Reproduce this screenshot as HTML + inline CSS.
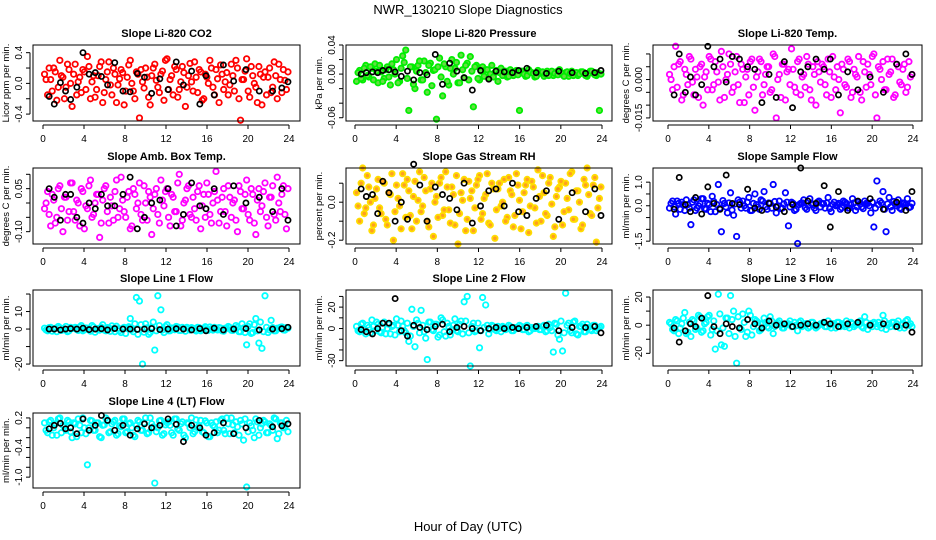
<!DOCTYPE html>
<html><head><meta charset="utf-8"><style>
html,body{margin:0;padding:0;background:#fff}
svg{display:block;font-family:"Liberation Sans",sans-serif}
</style></head><body>
<svg id="chart" width="936" height="540" viewBox="0 0 936 540" xmlns="http://www.w3.org/2000/svg">
<text x="468" y="14" text-anchor="middle" font-size="13">NWR_130210  Slope Diagnostics</text>
<text x="468" y="531" text-anchor="middle" font-size="13">Hour of Day (UTC)</text>
</svg>
<script>
const xTicks=[0,4,8,12,16,20,24];
const blackTimes=[0.6,1.1,1.7,2.2,2.7,3.3,3.9,4.5,5.1,5.7,6.3,7.0,7.8,8.5,9.2,9.9,10.6,11.4,12.2,13.0,13.7,14.5,15.3,15.9,16.7,17.6,18.6,19.8,21.1,22.4,23.3,23.9];
const co2Vals=[0.12,-0.15,0.05,0.2,-0.22,0.3,0.08,-0.05,0.18,-0.3,0.25,0.02,-0.12,0.15,0.35,-0.2,0.1,-0.08,0.22,-0.25,0.05,0.28,-0.15,0.12,-0.02,0.18,-0.28,0.08,0.3,-0.1,0.15,-0.45,0.02,0.2,-0.18,0.1,0.25,-0.05,0.12,-0.22,0.32,0.05,-0.15,0.18,-0.08,0.22,-0.3,0.1,0.02,0.28,-0.12,0.15,-0.2,0.08,0.3,-0.05,0.18,-0.25,0.12,0.02,-0.15,0.25,-0.1,0.2,-0.48,0.05,0.32,-0.18,0.1,-0.05,0.22,-0.28,0.15,0.08,-0.12,0.28,-0.2,0.05,0.18,-0.08];
const co2ValsB=[0.05,0.2,-0.1,0.15,-0.05,0.1,-0.2,0.25,0.0,0.12,-0.15,0.08,0.18,-0.08,0.22,0.02,-0.18,0.1,0.28,-0.12,0.15,-0.02,0.2,-0.25,0.06,0.14,-0.1,0.24,0.0,-0.2,0.12,0.18,-0.06,0.08,-0.28,0.2,0.04,-0.12,0.16,0.3,-0.08,0.1,0.22,-0.18,0.02,0.14,-0.05,0.26,-0.1,0.08,0.18,-0.22,0.12,0.0,0.2,-0.15,0.06,0.24,-0.08,0.14,-0.02,0.1,0.3,-0.2,0.05,0.16,-0.1,0.22,0.0,-0.25,0.12,0.08,-0.15,0.2,-0.05,0.1,0.25,-0.12,0.04,0.15];
const co2Black=[-0.17,-0.27,0.01,-0.1,-0.21,-0.05,0.4,0.12,0.14,0.09,-0.02,0.27,-0.1,-0.11,0.13,0.08,-0.13,0.06,-0.08,0.28,-0.02,0.16,-0.27,0.1,-0.15,0.24,0.03,0.18,-0.1,-0.1,-0.06,0.02];
const presVals=[-0.01,0.005,-0.008,0.012,-0.004,0.008,0.014,-0.012,0.003,-0.006,0.01,-0.015,0.006,0.02,-0.01,0.025,0.033,-0.05,0.01,-0.02,0.012,-0.008,0.018,-0.025,0.015,0.005,-0.062,0.022,-0.03,0.01,-0.015,0.02,0.008,-0.012,0.026,-0.005,0.015,0.024,-0.045,0.012,-0.008,0.01,0.006,-0.006,0.012,0.002,-0.01,0.008,0.004,-0.004,0.006,-0.002,0.005,-0.05,0.004,-0.003,0.006,0.002,-0.004,0.005,0.001,-0.003,0.004,0.002,-0.002,0.003,0.006,-0.001,0.002,-0.003,0.004,0.001,-0.002,0.003,0.002,-0.003,0.004,0.001,-0.002,-0.05];
const presValsB=[0.002,-0.006,0.008,-0.002,0.01,-0.008,0.004,0.012,-0.01,0.006,-0.004,0.014,0.0,-0.012,0.008,0.016,-0.006,0.01,-0.014,0.004,0.018,-0.008,0.002,0.012,-0.016,0.006,0.01,-0.004,0.014,-0.01,0.008,0.0,0.016,-0.012,0.006,0.012,-0.008,0.004,0.01,-0.006,0.004,-0.003,0.006,0.0,-0.004,0.005,0.002,-0.002,0.004,-0.003,0.002,0.003,-0.001,0.004,0.0,-0.002,0.003,0.001,-0.003,0.002,0.003,0.0,-0.002,0.004,0.001,-0.001,0.002,-0.003,0.003,0.001,-0.002,0.002,0.0,0.003,-0.002,0.001,0.004,-0.001,0.002,0.0];
const presBlack=[0,0.002,0.003,0.002,0.005,0.006,0.003,-0.003,0.004,-0.008,0.002,-0.001,0.027,-0.014,0.015,0.004,-0.005,-0.022,0.005,-0.007,0.004,0.003,0.002,0.005,0.008,0.002,0.001,0.004,0.002,0.001,0.002,0.005];
const tempVals=[0.002,-0.004,0.013,0.006,-0.008,0.004,-0.002,0.008,-0.006,0.001,0.005,-0.01,0.003,0.009,-0.004,0.007,-0.001,0.011,-0.007,0.002,0.006,-0.003,0.009,-0.009,0.004,0.001,-0.006,0.008,-0.012,0.003,0.007,-0.002,0.005,-0.005,0.01,-0.015,0.002,0.006,-0.008,0.004,0.012,-0.003,0.007,-0.006,0.002,0.009,-0.004,0.005,-0.01,0.003,0.006,-0.002,0.008,-0.007,0.001,0.005,-0.013,0.004,-0.003,0.007,-0.005,0.002,0.009,-0.008,0.003,0.006,-0.002,0.01,-0.015,0.004,0.007,-0.004,0.002,0.008,-0.006,0.005,-0.002,0.006,-0.003,0.001];
const tempValsB=[0.0,0.005,-0.003,0.007,-0.006,0.002,0.009,-0.001,0.004,-0.007,0.006,0.001,-0.004,0.008,-0.002,0.003,-0.008,0.005,0.0,0.01,-0.005,0.003,-0.002,0.006,-0.009,0.004,0.007,-0.003,0.001,0.008,-0.006,0.002,0.005,-0.004,0.009,0.0,-0.007,0.006,0.003,-0.002,0.004,-0.005,0.008,0.001,-0.003,0.006,-0.008,0.002,0.007,-0.001,0.005,-0.006,0.003,0.009,-0.004,0.0,0.006,-0.002,0.008,-0.007,0.004,0.001,-0.005,0.007,-0.003,0.002,0.009,-0.006,0.005,0.0,-0.004,0.008,0.003,-0.007,0.006,-0.001,0.004,-0.005,0.007,0.002];
const tempBlack=[-0.006,0.01,-0.005,0.001,-0.006,-0.002,0.013,0.005,0.008,-0.001,0.009,0.008,0.005,0.004,-0.009,0.002,-0.007,0.007,-0.011,0.003,0.005,0.008,0.004,0.008,-0.006,0.003,-0.004,0.001,-0.005,0.006,0.01,0.002];
const ambVals=[-0.02,0.04,-0.08,0.01,-0.05,0.06,-0.1,0.02,-0.03,0.07,-0.06,0.0,0.05,-0.09,-0.02,0.08,-0.04,0.03,-0.12,0.01,0.06,-0.07,-0.01,0.04,-0.05,0.09,-0.03,0.02,-0.09,0.05,-0.02,0.07,-0.06,0.0,0.04,-0.11,0.03,-0.04,0.08,-0.01,0.05,-0.08,0.02,-0.03,0.1,-0.06,0.01,0.06,-0.05,-0.02,0.04,-0.09,0.03,0.07,-0.04,0.0,0.11,-0.07,0.02,-0.03,0.06,-0.05,0.01,-0.1,0.04,-0.02,0.08,-0.06,0.03,-0.11,0.05,-0.01,0.07,-0.08,0.02,-0.04,0.09,-0.03,0.06,-0.09];
const ambValsB=[0.0,-0.04,0.03,-0.07,0.05,-0.02,0.02,-0.06,0.07,-0.03,0.01,-0.08,0.04,-0.01,0.06,-0.05,0.0,0.03,-0.07,0.05,-0.03,0.02,-0.06,0.08,-0.02,0.01,-0.05,0.04,-0.08,0.03,0.0,-0.04,0.06,-0.06,0.02,-0.02,0.05,-0.07,0.01,0.04,-0.05,0.03,-0.03,0.07,-0.08,0.0,0.05,-0.04,0.02,-0.06,0.06,-0.01,-0.05,0.03,-0.07,0.04,0.01,-0.03,0.05,-0.08,0.02,0.0,-0.06,0.06,-0.02,0.03,-0.04,0.05,-0.07,0.01,-0.03,0.04,-0.05,0.02,0.06,-0.06,0.0,0.03,-0.04,0.05];
const ambBlack=[0.05,0.02,-0.06,0.03,0.03,-0.05,-0.07,0.0,-0.02,0.03,-0.01,-0.01,0.03,0.09,-0.09,-0.05,0.0,0.01,0.05,-0.08,-0.04,0.07,-0.01,-0.02,0.05,-0.04,0.06,0.0,0.02,-0.03,0.05,-0.06];
const rhVals=[0.05,-0.1,0.18,-0.03,0.08,-0.15,0.02,0.12,-0.06,0.1,-0.12,0.04,-0.2,0.09,-0.02,0.15,-0.08,0.06,-0.14,0.11,0.01,-0.05,0.13,-0.1,0.07,-0.18,0.03,0.1,-0.07,0.16,-0.04,0.08,-0.12,-0.22,0.05,0.12,-0.09,0.02,-0.15,0.09,0.14,-0.06,0.04,-0.11,0.1,-0.19,0.07,-0.02,0.12,-0.08,0.06,-0.13,0.15,0.01,-0.05,0.09,-0.16,0.11,-0.03,0.17,-0.1,0.05,-0.07,0.13,-0.18,0.03,0.08,-0.12,0.1,-0.04,0.16,-0.09,0.06,-0.14,0.12,0.18,-0.06,0.09,-0.21,0.02];
const rhValsB=[-0.02,0.1,-0.06,0.14,0.0,-0.12,0.07,-0.03,0.11,-0.09,0.05,0.15,-0.05,0.02,-0.14,0.09,0.12,-0.07,0.03,-0.1,0.16,-0.02,0.06,-0.13,0.1,0.0,-0.08,0.13,-0.04,0.08,-0.11,0.04,0.14,-0.06,0.01,-0.15,0.11,0.06,-0.03,0.12,-0.09,0.02,0.15,-0.12,0.07,-0.04,0.1,0.0,-0.1,0.13,0.04,-0.07,0.09,-0.14,0.05,0.12,-0.02,0.08,-0.11,0.03,0.14,-0.06,0.1,-0.01,-0.13,0.07,0.11,-0.05,0.02,0.15,-0.09,0.06,0.0,-0.12,0.09,0.04,-0.07,0.13,-0.03,0.08];
const rhBlack=[0.07,0.03,0.04,-0.06,0.11,0.05,-0.1,0.0,-0.09,0.2,0.09,-0.1,0.08,0.04,0.02,-0.04,0.1,-0.11,-0.02,0.06,0.07,-0.02,0.1,-0.05,-0.07,0.02,0.06,-0.09,0.05,-0.05,0.07,-0.07];
const flowVals=[-0.1,0.2,-0.35,0.1,0.15,-0.2,0.05,-0.8,0.25,-0.1,0.1,0.3,-0.15,0.05,0.4,-0.25,0.9,-1.1,0.1,-0.3,0.55,-0.4,-1.3,0.15,0.2,-0.1,0.35,-0.2,0.5,-0.05,0.25,0.6,-0.15,0.1,0.9,-0.3,0.2,-0.1,0.55,-0.85,0.15,-0.2,-1.6,0.1,0.25,-0.15,0.3,0.05,-0.2,0.2,0.1,-0.1,0.35,-0.25,0.15,0.05,-0.15,0.2,0.1,-0.1,0.3,-0.2,0.15,-0.05,0.2,0.1,-0.3,-0.9,1.05,0.2,0.6,-1.1,0.35,-0.2,0.1,0.25,-0.15,0.1,0.3,-0.05];
const flowValsB=[0.1,-0.05,0.2,-0.15,0.05,0.25,-0.1,0.15,-0.2,0.0,0.3,-0.12,0.1,-0.25,0.18,0.05,-0.1,0.22,-0.05,0.12,-0.18,0.08,0.25,-0.1,0.0,0.15,-0.2,0.1,0.05,-0.15,0.2,-0.05,0.12,-0.1,0.18,0.0,-0.12,0.08,0.15,-0.05,0.1,-0.15,0.05,0.12,-0.08,0.0,0.1,-0.1,0.15,-0.05,0.08,0.12,-0.12,0.05,0.0,0.1,-0.08,0.15,-0.1,0.05,0.12,-0.05,0.08,-0.12,0.1,0.0,0.15,-0.1,0.05,0.12,-0.15,0.08,-0.05,0.18,0.0,-0.1,0.12,0.05,-0.08,0.1];
const flowBlack=[-0.15,1.2,0.05,-0.25,0.35,-0.35,0.8,0.1,-0.15,1.3,0.1,0.05,0.7,-0.1,-0.2,0.1,-0.05,-0.25,0.05,1.6,0.2,0.1,0.85,-0.9,0.6,-0.2,0.2,0.3,-0.15,0.15,-0.2,0.6];
const line1Vals=[0.5,-1,1,0,-1.5,0.8,-0.5,1.5,-1,0.3,1,-0.8,2,-0.5,0.5,-1.2,1.2,0,-0.6,2.5,-1,0.7,1.8,-1.5,0.2,-2,1,0.5,6,-1.5,18,16,-20,3,-3,1,-12,19,11,-2,2.5,-1,0.5,1.5,-0.8,1,-1.2,0.3,0.8,-0.5,1,-1,0.5,-0.3,1.2,-0.6,0.2,0.8,-1,0.5,1.5,-0.7,0.2,1,-1.5,0.6,-9,3,-2,6,-8,-11,19,-2,5,-1,0.5,1,-0.5,0.8];
const line1ValsB=[-0.5,0.8,-1.2,0.4,1.5,-0.8,0.2,-1.5,1,0.5,-0.3,1.2,-1,0.6,-0.4,2,-1.8,0.3,1.1,-0.6,0.8,-1.3,0.2,1.6,-0.9,0.5,-2.5,1.3,-0.2,3,-3,2.5,-1.8,0.7,-2,4,-1,2,-0.5,1.5,-1,0.6,-0.4,1.2,-0.8,0.3,1,-0.6,0.5,-1.1,0.8,-0.3,1.3,-0.7,0.2,1,-0.5,0.6,-1.2,0.4,0.9,-0.8,2,-1.5,3,-2,1.5,-2.5,2.5,-1,4,-1.5,1,-0.5,0.8,-1,0.3,1.2,-0.6,0.5];
const line1Black=[0,0,-0.5,0,0.3,0,0.5,-0.3,0,0.2,-0.5,0.3,0,0,-0.2,0,0.3,-0.3,0,0.2,0,-0.5,0.3,-1,0.5,-0.5,0,0.3,-0.5,0,0.2,1];
const line2Vals=[2,-3,5,-5,1,8,-2,4,-4,6,0,-5,3,9,-3,2,-4,-12,18,-17,5,17,-3,-29,6,-2,4,-6,8,-7,2,-1,9,-3,7,25,30,-35,5,-2,-18,29,22,-5,3,-1,2,-3,1,0,2,-2,1,3,-1,2,-3,1,0,2,-1,3,-2,1,-22,4,-10,-21,33,5,-4,7,-6,2,-3,4,-1,3,-2,1];
const line2ValsB=[-2,4,-1,3,-4,2,6,-3,1,-5,4,2,-6,3,7,-2,5,-7,2,8,-4,3,-9,6,-1,4,-8,10,-3,5,-6,3,-2,4,-5,7,-4,2,-3,5,-2,1,3,-1,2,-2,0,2,-1,3,-2,1,0,2,-1,3,-2,0,1,-1,2,-3,4,-2,5,-6,7,-4,3,-2,6,-5,2,4,-3,1,-2,3,0,2];
const line2Black=[-1,-3,-5,0,5,5,28,-2,-7,3,1,-1,2,4,-3,1,2,0,-2,0,1,0,1,0,1,2,3,-2,1,1,2,-4];
const line3Vals=[2,-3,4,-6,1,9,-5,-8,3,-2,6,-4,2,7,-3,-17,22,-14,-15,5,21,10,-27,-2,8,-8,10,-7,4,2,-3,5,-1,6,-6,1,3,-2,0,1,-1,2,-4,3,0,1,-1,2,-2,0,1,-1,3,-2,1,2,-1,0,3,-2,1,0,2,-1,6,-3,1,2,-1,0,7,-3,1,2,-1,3,0,-2,4,1];
const line3ValsB=[1,-4,3,-2,5,-6,2,4,-3,7,-5,1,6,-7,3,-4,8,-2,5,-6,4,-8,6,-3,2,-5,7,-1,3,-4,1,2,-2,3,-1,2,0,-2,1,3,-1,0,2,-1,1,-2,2,0,-1,1,2,-1,0,1,-2,2,1,-1,0,2,-1,1,3,-2,2,0,-1,1,2,-2,3,0,-1,2,1,-2,1,3,0,-1];
const line3Black=[-2,-12,-4,1,-1,5,21,-1,-6,1,-1,-2,4,1,-2,3,0,1,-1,0,1,0,2,1,-1,1,2,0,1,-1,0,-5];
const line4Vals=[0.1,-0.1,0.15,0.0,-0.15,0.2,0.05,-0.05,0.12,-0.2,0.08,0.18,-0.1,0.0,-0.75,0.15,-0.05,0.1,-0.18,0.05,0.2,-0.1,0.08,0.15,-0.12,0.02,0.18,-0.08,0.1,-0.15,0.05,0.12,-0.05,0.2,-0.1,0.08,-1.12,0.0,0.15,-0.12,0.1,0.05,-0.15,0.18,-0.05,0.12,-0.2,0.08,0.2,-0.08,0.0,0.15,-0.1,0.1,-0.18,0.05,0.12,-0.05,0.18,-0.12,0.08,0.2,-0.1,0.02,0.15,-0.25,-1.2,0.1,-0.05,0.18,-0.15,0.08,0.12,-0.1,0.05,0.2,-0.22,0.1,0.0,0.15];
const line4ValsB=[-0.05,0.12,-0.15,0.08,0.18,-0.1,0.02,0.15,-0.08,0.1,-0.18,0.05,0.2,-0.12,0.0,0.14,-0.05,0.1,-0.2,0.06,0.16,-0.08,0.12,-0.15,0.04,0.18,-0.1,0.08,0.0,-0.18,0.15,-0.05,0.1,-0.12,0.2,0.02,-0.08,0.14,-0.15,0.06,0.12,-0.1,0.18,-0.02,0.08,-0.15,0.1,0.0,-0.12,0.16,0.04,-0.08,0.14,-0.18,0.1,0.02,-0.1,0.15,-0.05,0.2,-0.12,0.06,0.12,-0.15,0.08,0.18,-0.08,0.04,-0.2,0.12,0.0,0.15,-0.1,0.08,-0.05,0.18,-0.12,0.1,0.02,-0.08];
const line4Black=[-0.02,0.05,0.09,-0.02,0.0,-0.12,0.18,-0.05,0.05,0.25,0.15,-0.05,0.05,-0.15,-0.02,0.08,0.0,0.05,0.18,0.07,-0.28,0.05,0.0,-0.15,-0.1,0.1,-0.12,0.0,0.15,0.02,0.04,0.08];

const NS="http://www.w3.org/2000/svg";
const svg=document.getElementById('chart');
function mk(tag,attrs,parent){const e=document.createElementNS(NS,tag);for(const k in attrs)e.setAttribute(k,attrs[k]);(parent||svg).appendChild(e);return e;}
const cols=[{l:33,r:300,x0:43,x24:289},{l:346,r:612,x0:355,x24:602},{l:653,r:922,x0:668,x24:913}];
const rows=[{t:45,b:121},{t:168,b:244},{t:290,b:366},{t:413,b:488}];
const panels=[
 {name:'co2',title:'Slope Li-820 CO2',ylab:'Licor ppm per min.',c:0,r:0,ymin:-0.49,ymax:0.5,ticks:[-0.4,-0.2,0,0.2,0.4],labs:{'0.4':'0.4','0':'0.0','-0.4':'-0.4'},vals:co2Vals,valsB:co2ValsB,blk:co2Black,stroke:'#ff0000',fill:'none'},
 {name:'pressure',title:'Slope Li-820 Pressure',ylab:'kPa per min.',c:1,r:0,ymin:-0.0645,ymax:0.04,ticks:[-0.06,-0.04,-0.02,0,0.02,0.04],labs:{'0.04':'0.04','0':'0.00','-0.06':'-0.06'},vals:presVals,valsB:presValsB,blk:presBlack,stroke:'#00ee00',fill:'#66dd44'},
 {name:'temp',title:'Slope Li-820 Temp.',ylab:'degrees C per min.',c:2,r:0,ymin:-0.0162,ymax:0.0135,ticks:[-0.015,-0.01,-0.005,0,0.005,0.01],labs:{'0':'0.000','-0.015':'-0.015'},vals:tempVals,valsB:tempValsB,blk:tempBlack,stroke:'#ff00ff',fill:'none'},
 {name:'amb-box-temp',title:'Slope Amb. Box Temp.',ylab:'degrees C per min.',c:0,r:1,ymin:-0.143,ymax:0.122,ticks:[-0.1,-0.05,0,0.05,0.1],labs:{'0.05':'0.05','-0.1':'-0.10'},vals:ambVals,valsB:ambValsB,blk:ambBlack,stroke:'#ff00ff',fill:'none'},
 {name:'gas-rh',title:'Slope Gas Stream RH',ylab:'percent per min.',c:1,r:1,ymin:-0.22,ymax:0.18,ticks:[-0.2,-0.1,0,0.1],labs:{'0':'0.0','-0.2':'-0.2'},vals:rhVals,valsB:rhValsB,blk:rhBlack,stroke:'#ffdd00',fill:'#ffa020'},
 {name:'sample-flow',title:'Slope Sample Flow',ylab:'ml/min per min.',c:2,r:1,ymin:-1.62,ymax:1.6,ticks:[-1.5,-1,-0.5,0,0.5,1],labs:{'1':'1.0','0':'0.0','-1.5':'-1.5'},vals:flowVals,valsB:flowValsB,blk:flowBlack,stroke:'#0000ff',fill:'none'},
 {name:'line1-flow',title:'Slope Line 1 Flow',ylab:'ml/min per min.',c:0,r:2,ymin:-21.1,ymax:22.3,ticks:[-20,-10,0,10,20],labs:{'10':'10','0':'0','-20':'-20'},vals:line1Vals,valsB:line1ValsB,blk:line1Black,stroke:'#00ffff',fill:'none'},
 {name:'line2-flow',title:'Slope Line 2 Flow',ylab:'ml/min per min.',c:1,r:2,ymin:-35,ymax:36,ticks:[-30,-20,-10,0,10,20,30],labs:{'20':'20','0':'0','-30':'-30'},vals:line2Vals,valsB:line2ValsB,blk:line2Black,stroke:'#00ffff',fill:'none'},
 {name:'line3-flow',title:'Slope Line 3 Flow',ylab:'ml/min per min.',c:2,r:2,ymin:-29,ymax:25,ticks:[-20,-10,0,10,20],labs:{'20':'20','0':'0','-20':'-20'},vals:line3Vals,valsB:line3ValsB,blk:line3Black,stroke:'#00ffff',fill:'none'},
 {name:'line4-flow',title:'Slope Line 4 (LT) Flow',ylab:'ml/min per min.',c:0,r:3,ymin:-1.22,ymax:0.3,ticks:[-1,-0.8,-0.6,-0.4,-0.2,0,0.2],labs:{'0.2':'0.2','-0.4':'-0.4','-1':'-1.0'},vals:line4Vals,valsB:line4ValsB,blk:line4Black,stroke:'#00ffff',fill:'none'}
];
panels.forEach(p=>{
  const C=cols[p.c],R=rows[p.r];
  const g=mk('g',{});
  
  
  const sx=t=>C.x0+(t/24)*(C.x24-C.x0);
  const sy=v=>R.b-(v-p.ymin)/(p.ymax-p.ymin)*(R.b-R.t);
  const title=mk('text',{x:(C.l+C.r)/2,y:R.t-8,'text-anchor':'middle','font-size':'11','font-weight':'bold'},g);
  title.textContent=p.title;
  
  
  const pts=mk('g',{},g);
  
  
  [[p.vals,0.15],[p.valsB,0.3]].forEach(([arr,off])=>{
    const n=arr.length;
    arr.forEach((v,i)=>{
      const t=off+i*23.6/(n-1);
      const c=mk('circle',{cx:sx(t),cy:sy(v),r:2.7,fill:p.fill,stroke:p.stroke,'stroke-width':1.8},pts);
      
      
    });
  });
  p.blk.forEach((v,i)=>{
    const c=mk('circle',{cx:sx(blackTimes[i]),cy:sy(v),r:2.6,fill:'none',stroke:'#000','stroke-width':1.7},pts);
    
    
  });
  const box=mk('rect',{x:C.l,y:R.t,width:C.r-C.l,height:R.b-R.t,fill:'none',stroke:'#000','stroke-width':1},g);
  
  
  const xa=mk('g',{},g);
  
  
  const ay=R.b+4;
  mk('line',{x1:sx(0),x2:sx(24),y1:ay,y2:ay,stroke:'#000'},xa);
  xTicks.forEach(t=>{
    mk('line',{x1:sx(t),x2:sx(t),y1:ay,y2:ay+4,stroke:'#000'},xa);
    const tl=mk('text',{x:sx(t),y:ay+17,'text-anchor':'middle','font-size':'10'},xa);
    tl.textContent=t;
    
    
  });
  const ya=mk('g',{},g);
  
  
  const ax=C.l-3;
  const tv=p.ticks.map(sy);
  mk('line',{x1:ax,x2:ax,y1:Math.min(...tv),y2:Math.max(...tv),stroke:'#000'},ya);
  p.ticks.forEach(v=>{
    const y=sy(v);
    mk('line',{x1:ax-4,x2:ax,y1:y,y2:y,stroke:'#000'},ya);
    const key=String(v);
    if(p.labs[key]!==undefined){
      const tl=mk('text',{x:0,y:0,'text-anchor':'middle','font-size':'10',transform:`translate(${ax-8},${y}) rotate(-90)`},ya);
      tl.textContent=p.labs[key];
      
      
    }
  });
  const yl=mk('text',{x:0,y:0,'text-anchor':'middle','font-size':'9.5',transform:`translate(${C.l-24},${(R.t+R.b)/2}) rotate(-90)`},g);
  yl.textContent=p.ylab;
  
  
});
</script>
</body></html>
